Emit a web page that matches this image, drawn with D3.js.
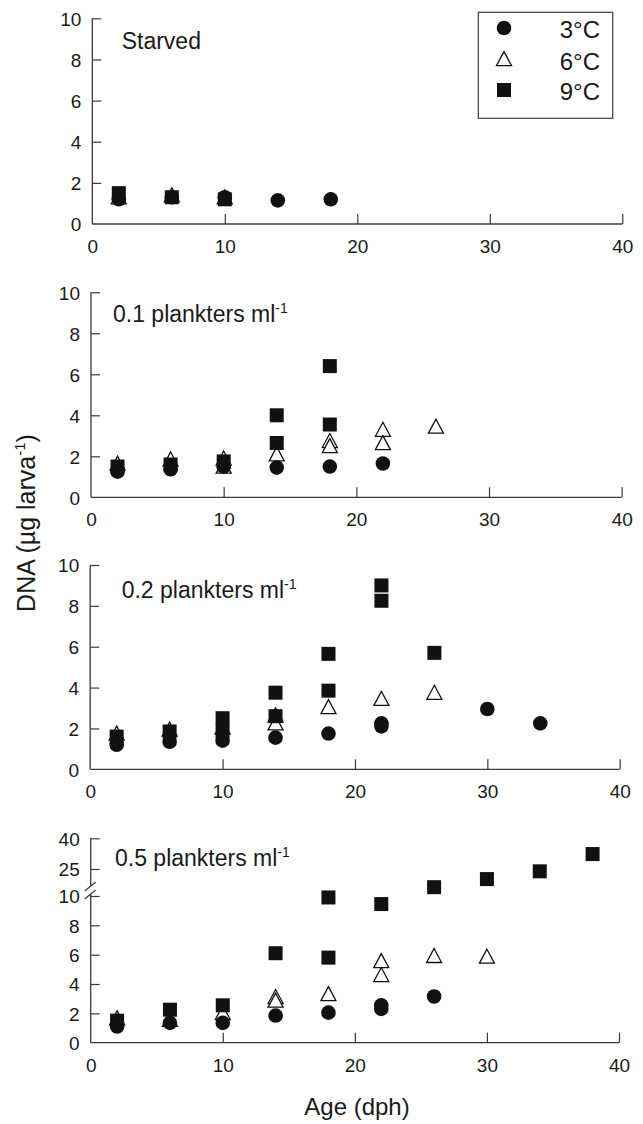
<!DOCTYPE html>
<html><head><meta charset="utf-8">
<script src="https://cdn.jsdelivr.net/npm/d3@7/dist/d3.min.js"></script>
<style>body{margin:0;background:#fff}svg{display:block}text{font-family:"Liberation Sans",Arial,sans-serif;fill:#1a1a1a}</style>
</head><body><svg id="c" width="643" height="1124"></svg>
<script>
// ---- data (age dph, DNA µg larva-1) ----
const seriesNames = ["3°C","6°C","9°C"];
const panelLabels = ["Starved","0.1 plankters ml","0.2 plankters ml","0.5 plankters ml"];
const xTicks = [0,10,20,30,40];
const yTicks = [0,2,4,6,8,10];
const yTicksBroken = [0,2,4,6,8,10,25,40];

const starved3 = [[2,1.2],[6,1.3],[10,1.3],[14,1.15],[18,1.2]];
const starved6 = [[2,1.25],[6,1.35],[10,1.25]];
const starved9 = [[2,1.5],[6,1.3],[10,1.2]];

const p01_3 = [[2,1.25],[6,1.37],[10,1.5],[14,1.45],[18,1.5],[22,1.65]];
const p01_6 = [[2,1.6],[6,1.8],[10,1.85],[10,1.45],[14,2.05],[18,2.7],[18,2.45],[22,3.25],[22,2.6],[26,3.4]];
const p01_9 = [[2,1.5],[6,1.6],[10,1.75],[14,4.0],[14,2.65],[18,6.4],[18,3.55]];

const p02_3 = [[2,1.2],[6,1.35],[10,1.4],[14,1.55],[18,1.75],[22,2.25],[22,2.1],[30,2.95],[34,2.25]];
const p02_6 = [[2,1.7],[6,1.9],[10,2.0],[14,2.6],[14,2.2],[18,3.0],[22,3.4],[26,3.7]];
const p02_9 = [[2,1.6],[6,1.85],[10,2.5],[10,1.85],[14,3.75],[14,2.6],[18,5.65],[18,3.85],[22,9.0],[22,8.25],[26,5.7]];

const p05_3 = [[2,1.1],[6,1.35],[10,1.35],[14,1.85],[18,2.05],[22,2.55],[22,2.3],[26,3.15]];
const p05_6 = [[2,1.6],[6,1.5],[10,1.95],[14,3.05],[14,2.8],[18,3.25],[22,5.5],[22,4.55],[26,5.85],[30,5.8]];
const p05_9 = [[2,1.5],[6,2.25],[10,2.55],[14,6.1],[18,9.9],[18,5.8],[22,9.45],[26,14.9],[30,19.4],[34,23.7],[38,32.3]];

const panelData = [
  [starved3, starved6, starved9],
  [p01_3, p01_6, p01_9],
  [p02_3, p02_6, p02_9],
  [p05_3, p05_6, p05_9]
];

// ---- layout ----
const layout = [
  {x0:92.3, x1:622.3, yTop:18.3, yBot:224.0, lx:121.7, ly:49,  sup:false},
  {x0:91.0, x1:621.7, yTop:292.3, yBot:497.3, lx:113,  ly:322, sup:true},
  {x0:90.2, x1:619.7, yTop:565.0, yBot:769.3, lx:121.7, ly:598, sup:true},
  {x0:90.7, x1:619.0, yTop:838.3, yBot:1042.7, lx:115, ly:866, sup:true, broken:true}
];
const axisColor = "#3a3a3a";
const svg = d3.select("#c");

function drawMarker(g, type, cx, cy) {
  if (type === 0) {
    g.append("circle").attr("cx",cx).attr("cy",cy).attr("r",7.3).attr("fill","#111");
  } else if (type === 1) {
    const w=7.5, h=14;
    g.append("path").attr("d",`M${cx},${cy-h*0.6}L${cx+w},${cy+h*0.4}L${cx-w},${cy+h*0.4}Z`)
      .attr("fill","#fff").attr("stroke","#111").attr("stroke-width",1.3).attr("stroke-linejoin","miter");
  } else {
    g.append("rect").attr("x",cx-7).attr("y",cy-7).attr("width",14).attr("height",14).attr("fill","#111");
  }
}

layout.forEach((L, i) => {
  const g = svg.append("g");
  const x = d3.scaleLinear().domain([0,40]).range([L.x0, L.x1]);
  let y;
  if (L.broken) {
    y = d3.scaleLinear().domain([0,10,25,40]).range([L.yBot, 896, 869, L.yTop]);
  } else {
    y = d3.scaleLinear().domain([0,10]).range([L.yBot, L.yTop]);
  }
  // x axis
  const xa = g.append("g").attr("transform",`translate(0,${L.yBot})`)
    .call(d3.axisBottom(x).tickValues(xTicks).tickSize(-10).tickPadding(0).tickFormat(d3.format("d")));
  xa.select(".domain").attr("d",`M${L.x0},0H${L.x1}`).attr("stroke",axisColor).attr("stroke-width",1.3);
  xa.selectAll(".tick line").attr("stroke",axisColor).attr("stroke-width",1.2);
  xa.selectAll(".tick").filter(d=>d===0).select("line").remove();
  xa.selectAll(".tick text").attr("y",null).attr("dy",null).attr("transform","translate(0,29)")
    .style("font-size","19px").style("font-family","'Liberation Sans',Arial,sans-serif").attr("fill","#1a1a1a");
  // y axis
  const ya = g.append("g").attr("transform",`translate(${L.x0},0)`)
    .call(d3.axisLeft(y).tickValues(L.broken?yTicksBroken:yTicks).tickSize(-9).tickPadding(11).tickFormat(d3.format("d")));
  ya.selectAll(".tick line").attr("stroke",axisColor).attr("stroke-width",1.2);
  ya.selectAll(".tick").filter(d=>d===0).select("line").remove();
  ya.selectAll(".tick text").style("font-size","19px").style("font-family","'Liberation Sans',Arial,sans-serif").attr("fill","#1a1a1a").attr("dy","0.36em");
  if (L.broken) {
    ya.select(".domain").remove();
    g.append("line").attr("x1",L.x0).attr("x2",L.x0).attr("y1",L.yTop).attr("y2",886).attr("stroke",axisColor).attr("stroke-width",1.3);
    g.append("line").attr("x1",L.x0).attr("x2",L.x0).attr("y1",894).attr("y2",L.yBot).attr("stroke",axisColor).attr("stroke-width",1.3);
    [[891,882],[899,890]].forEach(([a,b]) => {
      g.append("line").attr("x1",L.x0-6).attr("y1",a).attr("x2",L.x0+5).attr("y2",b).attr("stroke",axisColor).attr("stroke-width",1.2);
    });
  } else {
    ya.select(".domain").attr("d",`M0,${L.yTop}V${L.yBot}`).attr("stroke",axisColor).attr("stroke-width",1.3);
  }
  // panel label
  const t = g.append("text").attr("x",L.lx).attr("y",L.ly).style("font-size","23px").text(panelLabels[i]);
  if (L.sup) t.append("tspan").attr("dy","-9").style("font-size","14px").text("-1");
  // markers: triangles first, then circles, then squares
  const mg = g.append("g");
  [1,0,2].forEach(s => {
    panelData[i][s].forEach(d => drawMarker(mg, s, x(d[0]), y(d[1])));
  });
});

// legend
const lg = svg.append("g");
lg.append("rect").attr("x",478.3).attr("y",12.3).attr("width",134.4).attr("height",106).attr("fill","#fff").attr("stroke","#3a3a3a").attr("stroke-width",1.2);
const legY = [28, 60, 90];
seriesNames.forEach((n, s) => {
  drawMarker(lg, s, 504, legY[s]);
  lg.append("text").attr("x",600).attr("y",legY[s]+10).attr("text-anchor","end").style("font-size","24px").text(n);
});

// axis titles
const yt = svg.append("text").attr("transform","translate(35,523) rotate(-90)").attr("text-anchor","middle").style("font-size","25px");
yt.append("tspan").text("DNA (µg larva");
yt.append("tspan").attr("dy","-10").style("font-size","15px").text("-1");
yt.append("tspan").attr("dy","10").text(")");
svg.append("text").attr("x",357).attr("y",1115).attr("text-anchor","middle").style("font-size","24px").text("Age (dph)");
</script></body></html>
